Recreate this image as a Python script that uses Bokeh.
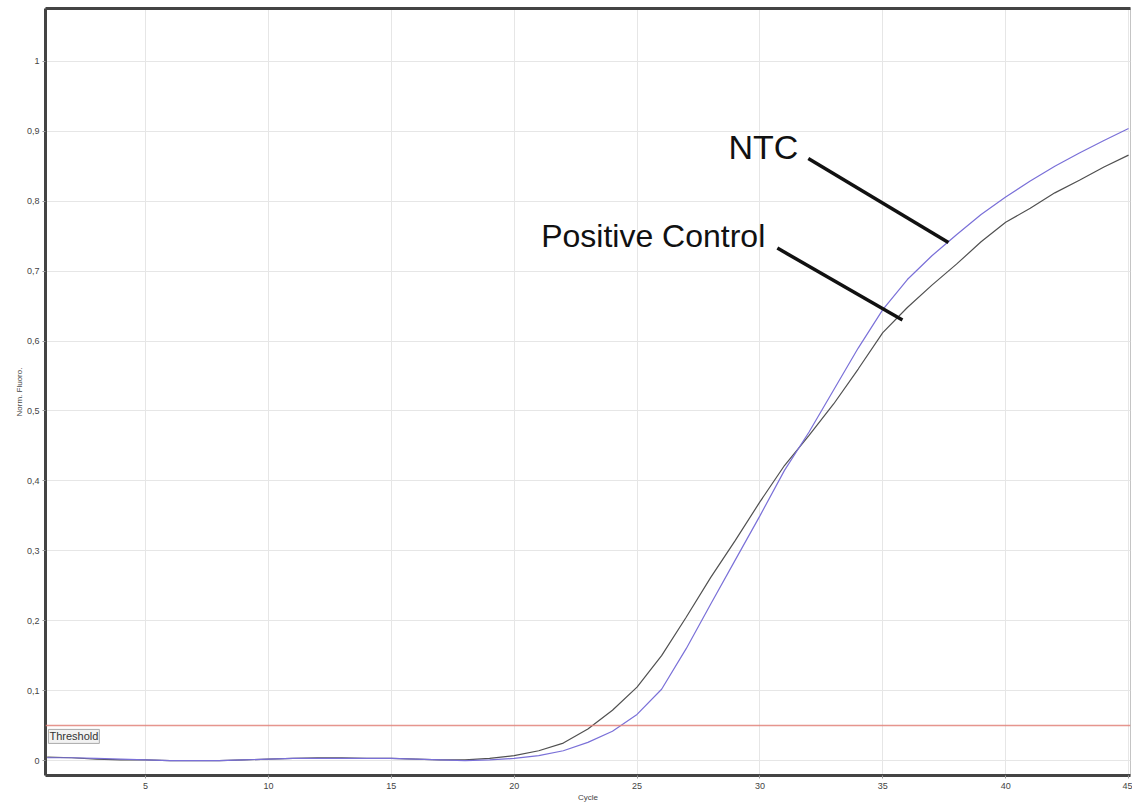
from bokeh.plotting import figure
from bokeh.models import Range1d, FixedTicker, LinearAxis, Label, Span
from bokeh.embed import file_html
from bokeh.resources import INLINE

cycles = list(range(1, 46))
ntc = [0.004, 0.004, 0.003, 0.002, 0.001, 0.000, 0.000, 0.000, 0.001, 0.002,
       0.003, 0.003, 0.003, 0.003, 0.003, 0.002, 0.001, 0.000, 0.001, 0.003,
       0.007, 0.014, 0.026, 0.042, 0.066, 0.102, 0.160, 0.224, 0.287, 0.350,
       0.415, 0.470, 0.530, 0.590, 0.645, 0.688, 0.722, 0.752, 0.781, 0.806,
       0.829, 0.850, 0.869, 0.887, 0.904]
positive_control = [0.005, 0.004, 0.002, 0.001, 0.001, 0.000, 0.000, 0.000, 0.001, 0.002,
                    0.003, 0.004, 0.004, 0.003, 0.003, 0.002, 0.001, 0.001, 0.003, 0.007,
                    0.014, 0.025, 0.045, 0.072, 0.105, 0.150, 0.205, 0.262, 0.315, 0.370,
                    0.422, 0.465, 0.510, 0.560, 0.612, 0.648, 0.680, 0.710, 0.742, 0.770,
                    0.790, 0.812, 0.830, 0.849, 0.866]
threshold = 0.05

x_ticks = [5, 10, 15, 20, 25, 30, 35, 40, 45]
y_ticks = [0, 0.1, 0.2, 0.3, 0.4, 0.5, 0.6, 0.7, 0.8, 0.9, 1.0]
y_tick_labels = ["0", "0,1", "0,2", "0,3", "0,4", "0,5", "0,6", "0,7", "0,8", "0,9", "1"]

# annotation text and pointer lines (data coords)
ntc_label = ("NTC", 28.72, 0.878)
ntc_pointer = ([31.97, 37.67], [0.861, 0.741])
pc_label = ("Positive Control", 21.1, 0.750)
pc_pointer = ([30.71, 35.80], [0.733, 0.630])

FONT = "Liberation Sans"

p = figure(width=1132, height=804, output_backend="svg", toolbar_location=None,
           x_range=Range1d(0.93, 45.08), y_range=Range1d(-0.0214, 1.0757),
           min_border_left=45, min_border_right=2, min_border_top=8, min_border_bottom=26,
           background_fill_color="white", border_fill_color="white")

p.outline_line_color = "#c4c4c4"
p.outline_line_width = 1

p.xaxis.ticker = FixedTicker(ticks=x_ticks)
p.yaxis.ticker = FixedTicker(ticks=y_ticks)
p.yaxis.major_label_overrides = {t: l for t, l in zip(y_ticks, y_tick_labels)}

for ax in (p.xaxis[0], p.yaxis[0]):
    ax.axis_line_color = "#444444"
    ax.axis_line_width = 3
    ax.major_tick_line_color = "#999999"
    ax.major_tick_out = 3
    ax.major_tick_in = 0
    ax.minor_tick_line_color = None
    ax.major_label_text_font = FONT
    ax.major_label_text_font_size = "9px"
    ax.major_label_text_color = "#444444"
    ax.axis_label_text_font = FONT
    ax.axis_label_text_font_size = "8px"
    ax.axis_label_text_font_style = "normal"
    ax.axis_label_text_color = "#444444"

p.xaxis.axis_label = "Cycle"
p.xaxis.major_label_standoff = 4
p.xaxis.axis_label_standoff = 1
p.yaxis.axis_label = "Norm. Fluoro."
p.yaxis.major_label_standoff = 3
p.yaxis.axis_label_standoff = 0

top_axis = LinearAxis(ticker=FixedTicker(ticks=[]), axis_line_color="#444444",
                      axis_line_width=3, major_tick_line_color=None,
                      minor_tick_line_color=None, major_label_text_font_size="0px")
p.add_layout(top_axis, "above")

p.xgrid.grid_line_color = "#e6e6e6"
p.ygrid.grid_line_color = "#e6e6e6"
p.xgrid.grid_line_width = 1
p.ygrid.grid_line_width = 1

p.add_layout(Span(location=threshold, dimension="width", line_color="#e2837a",
                  line_width=1.5, line_alpha=0.85))

p.line(cycles, positive_control, line_color="#505050", line_width=1.2)
p.line(cycles, ntc, line_color="#7a70d8", line_width=1.2)

p.add_layout(Label(x=1.05, y=0.0245, text="Threshold", text_font=FONT,
                   text_font_size="11px", text_color="#333333",
                   background_fill_color="#f2f2f2", border_line_color="#aaaaaa",
                   padding=1))

p.add_layout(Label(x=ntc_label[1], y=ntc_label[2], text=ntc_label[0], text_font=FONT,
                   text_font_size="34px", text_color="#111111", text_baseline="middle"))
p.add_layout(Label(x=pc_label[1], y=pc_label[2], text=pc_label[0], text_font=FONT,
                   text_font_size="32px", text_color="#111111", text_baseline="middle"))

p.line(ntc_pointer[0], ntc_pointer[1], line_color="#111111", line_width=3.5)
p.line(pc_pointer[0], pc_pointer[1], line_color="#111111", line_width=3.5)

open("out.html", "w").write(file_html(p, INLINE))
